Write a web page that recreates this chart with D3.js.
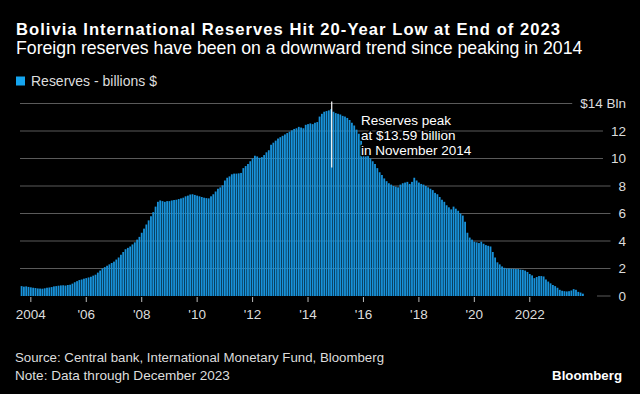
<!DOCTYPE html>
<html>
<head>
<meta charset="utf-8">
<script src="https://cdn.jsdelivr.net/npm/d3@7"></script>
<style>
  html, body { margin: 0; padding: 0; background: #000; }
  svg { display: block; }
  text { font-family: "Liberation Sans", Arial, sans-serif; }
</style>
</head>
<body>
<svg id="chart" width="640" height="394"></svg>
<script>
// ---- DATA (monthly, Sep 2003 – Dec 2023, billions USD) ----
const startYear = 2003, startMonth = 8; // September 2003 (0-based month)
const values2003 = [0.72, 0.68, 0.70, 0.66];
const values2004 = [0.63, 0.60, 0.58, 0.55, 0.54, 0.53, 0.56, 0.60, 0.62, 0.65, 0.70, 0.72];
const values2005 = [0.75, 0.77, 0.78, 0.76, 0.80, 0.82, 0.90, 1.00, 1.08, 1.16, 1.20, 1.26];
const values2006 = [1.30, 1.35, 1.40, 1.48, 1.55, 1.70, 1.85, 2.00, 2.10, 2.20, 2.30, 2.40];
const values2007 = [2.50, 2.65, 2.80, 3.00, 3.20, 3.40, 3.50, 3.60, 3.75, 3.90, 4.10, 4.30];
const values2008 = [4.60, 4.90, 5.20, 5.50, 5.80, 6.10, 6.50, 6.85, 6.95, 6.90, 6.85, 6.90];
const values2009 = [6.90, 6.95, 6.98, 7.00, 7.05, 7.10, 7.15, 7.25, 7.30, 7.38, 7.40, 7.35];
const values2010 = [7.30, 7.25, 7.20, 7.15, 7.12, 7.10, 7.25, 7.40, 7.60, 7.80, 7.90, 8.05];
const values2011 = [8.40, 8.60, 8.70, 8.85, 8.90, 8.90, 8.92, 8.95, 9.30, 9.45, 9.60, 9.80];
const values2012 = [10.00, 10.20, 10.15, 10.05, 10.10, 10.25, 10.45, 10.60, 11.00, 11.15, 11.30, 11.45];
const values2013 = [11.55, 11.65, 11.75, 11.85, 11.95, 12.05, 12.15, 12.20, 12.30, 12.25, 12.20, 12.45];
const values2014 = [12.50, 12.55, 12.50, 12.60, 12.65, 13.05, 13.25, 13.40, 13.45, 13.50, 13.59, 13.40];
const values2015 = [13.30, 13.25, 13.20, 13.10, 13.05, 12.95, 12.80, 12.60, 12.40, 12.10, 11.80, 11.30];
const values2016 = [10.70, 10.40, 10.20, 10.00, 9.80, 9.60, 9.30, 9.00, 8.80, 8.55, 8.35, 8.20];
const values2017 = [8.10, 8.00, 7.95, 7.90, 8.10, 8.20, 8.25, 8.30, 8.15, 8.30, 8.60, 8.40];
const values2018 = [8.25, 8.15, 8.10, 8.00, 7.90, 7.80, 7.70, 7.50, 7.40, 7.20, 7.00, 6.85];
const values2019 = [6.60, 6.45, 6.30, 6.50, 6.35, 6.20, 6.00, 5.85, 5.40, 4.60, 4.25, 4.10];
const values2020 = [3.95, 3.90, 3.85, 3.95, 3.80, 3.70, 3.65, 3.60, 3.20, 2.80, 2.45, 2.30];
const values2021 = [2.15, 2.05, 2.00, 2.00, 1.98, 1.98, 1.96, 1.96, 1.92, 1.90, 1.85, 1.75];
const values2022 = [1.60, 1.50, 1.30, 1.38, 1.45, 1.45, 1.42, 1.20, 1.05, 0.92, 0.80, 0.72];
const values2023 = [0.60, 0.45, 0.38, 0.35, 0.33, 0.35, 0.40, 0.50, 0.45, 0.30, 0.25, 0.17];

const yTickValues = [0, 2, 4, 6, 8, 10, 12, 14];
const yTickLabels = ["0", "2", "4", "6", "8", "10", "12", "$14 Bln"];
const xTickYears = [2004, 2006, 2008, 2010, 2012, 2014, 2016, 2018, 2020, 2022];
const xTickLabels = ["2004", "'06", "'08", "'10", "'12", "'14", "'16", "'18", "'20", "2022"];

const title = "Bolivia International Reserves Hit 20-Year Low at End of 2023";
const subtitle = "Foreign reserves have been on a downward trend since peaking in 2014";
const legendLabel = "Reserves - billions $";
const annotationLines = ["Reserves peak", "at $13.59 billion", "in November 2014"];
const annotationDate = "2014-11";
const sourceText = "Source: Central bank, International Monetary Fund, Bloomberg";
const noteText = "Note: Data through December 2023";

// ---- build table ----
const allValues = [].concat(values2003, values2004, values2005, values2006, values2007,
  values2008, values2009, values2010, values2011, values2012, values2013, values2014,
  values2015, values2016, values2017, values2018, values2019, values2020, values2021,
  values2022, values2023);
const data = allValues.map((v, i) => {
  const m = startMonth + i;
  const y = startYear + Math.floor(m / 12);
  const mm = (m % 12) + 1;
  return { key: y + "-" + String(mm).padStart(2, "0"), value: v };
});

const BLUE = "#1892da";
const svg = d3.select("#chart");
svg.append("rect").attr("width", 640).attr("height", 394).attr("fill", "#000");

function fitSpacing(sel, target) {
  const w = sel.node().getComputedTextLength();
  const n = sel.text().length;
  sel.attr("letter-spacing", ((target - w) / n).toFixed(3));
}
function fit(sel, target) {
  const w = sel.node().getComputedTextLength();
  const fs = parseFloat(sel.attr("font-size"));
  sel.attr("font-size", (fs * target / w).toFixed(2));
}

// ---- scales ----
const x = d3.scaleBand().domain(data.map(d => d.key)).range([20.7, 583.8]).paddingInner(0.22).paddingOuter(0);
const y = d3.scaleLinear().domain([0, 14]).range([296, 103.5]);

// ---- headings ----
const t = svg.append("text").attr("x", 16).attr("y", 35).attr("fill", "#fff")
  .attr("font-size", 16.6).attr("font-weight", "bold").text(title);
fitSpacing(t, 545);
const st = svg.append("text").attr("x", 16).attr("y", 53.5).attr("fill", "#fff")
  .attr("font-size", 15.5).text(subtitle);
fit(st, 567);

// legend
svg.append("rect").attr("x", 16).attr("y", 76.5).attr("width", 9).attr("height", 9).attr("fill", "#15a5ef");
const lg = svg.append("text").attr("x", 31).attr("y", 85.5).attr("fill", "#ddd")
  .attr("font-size", 13).text(legendLabel);
fit(lg, 126);

// ---- y axis labels + gridlines ----
const yg = svg.append("g");
yTickValues.forEach((v, i) => {
  const lab = yg.append("text").attr("x", 626).attr("y", y(v)).attr("dy", "0.35em")
    .attr("text-anchor", "end").attr("fill", "#ddd").attr("font-size", 13.5).text(yTickLabels[i]);
  const w = lab.node().getComputedTextLength();
  const x1 = v === 0 ? 597 : 20;
  yg.append("line").attr("x1", x1).attr("x2", 626 - w - 8)
    .attr("y1", y(v)).attr("y2", y(v)).attr("stroke", "#5a5a5a").attr("stroke-width", 1);
});

// ---- bars ----
svg.append("g").selectAll("rect").data(data).join("rect")
  .attr("x", d => x(d.key)).attr("width", x.bandwidth())
  .attr("y", d => y(d.value)).attr("height", d => y(0) - y(d.value))
  .attr("fill", BLUE);

// ---- x axis ----
const xg = svg.append("g");
xTickYears.forEach((yr, i) => {
  const k = yr + "-01";
  const cx = x(k) + x.bandwidth() / 2;
  xg.append("line").attr("x1", cx).attr("x2", cx).attr("y1", 297).attr("y2", 302)
    .attr("stroke", "#bbb").attr("stroke-width", 1);
  xg.append("text").attr("x", cx).attr("y", 319).attr("text-anchor", "middle")
    .attr("fill", "#ddd").attr("font-size", 13.5).text(xTickLabels[i]);
});

// ---- annotation ----
const ax = x(annotationDate) + x.bandwidth() / 2 + 0.6;
svg.append("line").attr("x1", ax).attr("x2", ax).attr("y1", y(14) - 2).attr("y2", y(9.35))
  .attr("stroke", "#fff").attr("stroke-width", 1.2);
const ag = svg.append("g");
annotationLines.forEach((s, i) => {
  ag.append("text").attr("x", 361).attr("y", 124.5 + i * 15)
    .attr("fill", "#fff").attr("stroke", "#000").attr("stroke-width", 3)
    .attr("paint-order", "stroke").attr("stroke-linejoin", "round")
    .attr("font-size", 13.5).text(s);
});

// ---- footer ----
const src = svg.append("text").attr("x", 15).attr("y", 362).attr("fill", "#ddd")
  .attr("font-size", 13).text(sourceText);
fit(src, 369);
const note = svg.append("text").attr("x", 15).attr("y", 380).attr("fill", "#ddd")
  .attr("font-size", 13).text(noteText);
fit(note, 215);
const bl = svg.append("text").attr("x", 622).attr("y", 380).attr("text-anchor", "end")
  .attr("fill", "#fff").attr("font-size", 13).attr("font-weight", "bold").text("Bloomberg");
fit(bl, 70);
</script>
</body>
</html>
